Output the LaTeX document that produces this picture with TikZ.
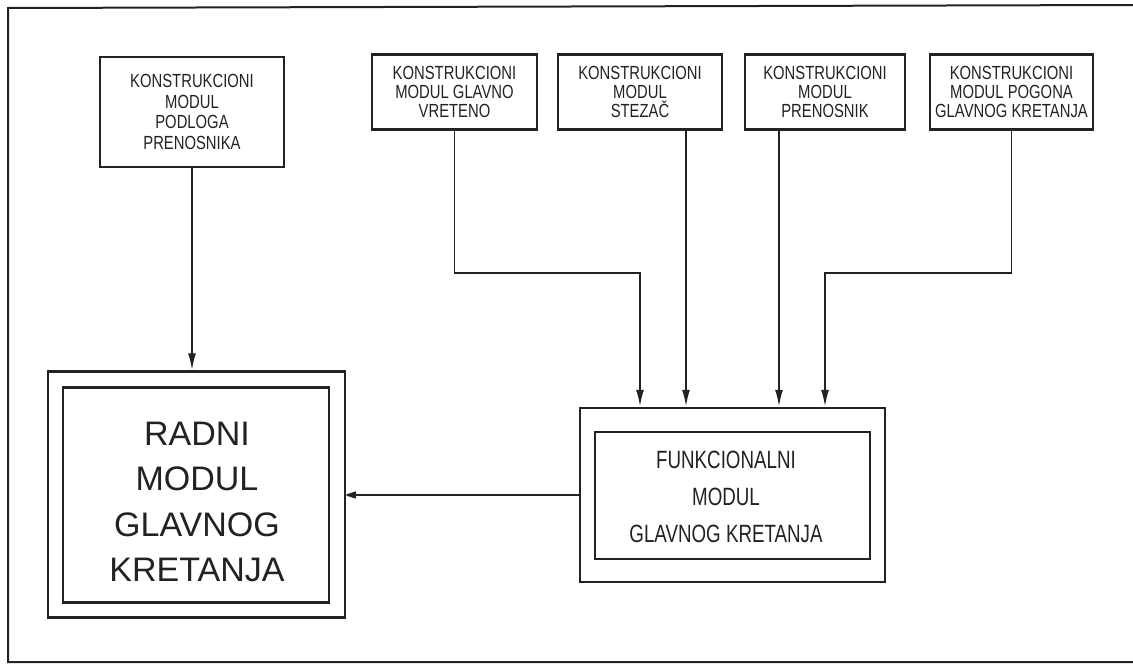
\documentclass[tikz,border=0pt]{standalone}
\usepackage{fontspec}
\setmainfont{Liberation Sans}
\newfontfamily\smallf[FakeStretch=0.78]{Liberation Sans}
\newfontfamily\midf[FakeStretch=0.75]{Liberation Sans}
\usetikzlibrary{arrows.meta}
\definecolor{ink}{HTML}{222222}
\begin{document}
\begin{tikzpicture}[x=1pt,y=-1pt,
  box/.style={draw=ink,line width=2.5pt,inner sep=0pt,rectangle},
  smallbox/.style={box,align=center,text=ink,font=\smallf\fontsize{19}{20.5}\selectfont},
  conn/.style={draw=ink,line width=1.9pt},
  arr/.style={conn,-{Latex[length=17pt,width=8pt]}},
  frame/.style={draw=ink,line width=2pt}]
\useasboundingbox (0,0) rectangle (1133,667);
\draw[frame] (1133,5) -- (8,8) -- (8,662) -- (1133,662);
% top boxes
\node[smallbox,minimum width=184pt,minimum height=110pt] (b1) at (192,112) {KONSTRUKCIONI\\MODUL\\PODLOGA\\PRENOSNIKA};
\node[smallbox,minimum width=165pt,minimum height=75pt,font=\smallf\fontsize{19}{19}\selectfont] (b2) at (454.5,92) {KONSTRUKCIONI\\MODUL GLAVNO\\VRETENO};
\node[smallbox,minimum width=164pt,minimum height=75pt,font=\smallf\fontsize{19}{19}\selectfont] (b3) at (640,92) {KONSTRUKCIONI\\MODUL\\STEZAČ};
\node[smallbox,minimum width=160pt,minimum height=75pt,font=\smallf\fontsize{19}{19}\selectfont] (b4) at (825,92) {KONSTRUKCIONI\\MODUL\\PRENOSNIK};
\node[smallbox,minimum width=163pt,minimum height=75pt,font=\smallf\fontsize{19}{19}\selectfont] (b5) at (1011.5,92) {KONSTRUKCIONI\\MODUL POGONA\\GLAVNOG KRETANJA};
% left double box
\node[box,minimum width=297pt,minimum height=246pt] (ro) at (196.5,494.5) {};
\node[box,minimum width=266pt,minimum height=215pt] (ri) at (196,495) {};
\node[align=center,text=ink,inner sep=0pt,font=\fontsize{34}{45.5}\selectfont] (rt) at (197,502) {RADNI\\MODUL\\GLAVNOG\\KRETANJA};
% right double box
\node[box,minimum width=305pt,minimum height=174pt] (fo) at (732.5,495) {};
\node[box,minimum width=275pt,minimum height=127pt] (fi) at (732.5,495.5) {};
\node[align=center,text=ink,inner sep=0pt,font=\midf\fontsize{25}{37}\selectfont] (ft) at (726,497) {FUNKCIONALNI\\MODUL\\GLAVNOG KRETANJA};
% arrow end points on top of right box
\coordinate (a1) at ([xshift=-92.5pt]fo.north);
\coordinate (a2) at ([xshift=-46.5pt]fo.north);
\coordinate (a3) at ([xshift=46.5pt]fo.north);
\coordinate (a4) at ([xshift=92.5pt]fo.north);
\coordinate (j1) at (a1 |- 0,273);
\coordinate (j4) at (a4 |- 0,273);
% connectors
\draw[arr] (b1.south) -- (b1.south |- ro.north);
\draw[arr] (b2.south) |- (j1) -- (a1);
\draw[arr] (b3.south -| a2) -- (a2);
\draw[arr] (b4.south -| a3) -- (a3);
\draw[arr] (b5.south) |- (j4) -- (a4);
\draw[conn,-{Latex[length=14pt,width=8pt,round]}] (fo.west) -- (fo.west -| ro.east);
\end{tikzpicture}
\end{document}
